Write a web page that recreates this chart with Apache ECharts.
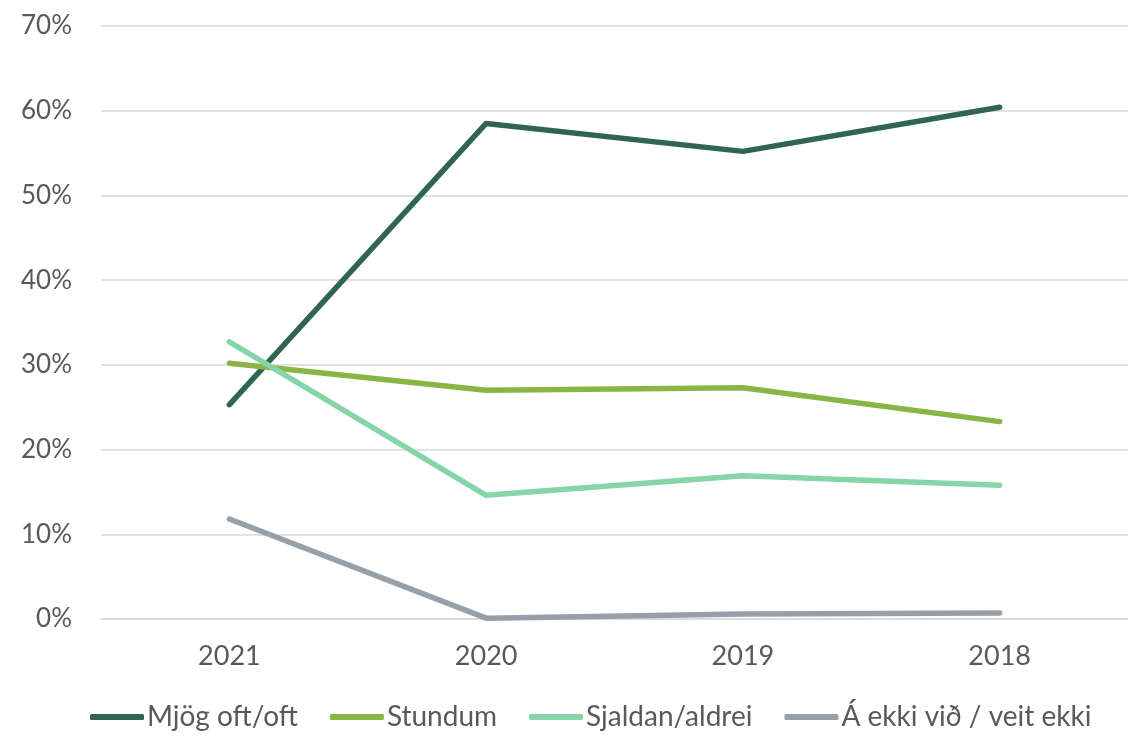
<!DOCTYPE html>
<html>
<head>
<meta charset="utf-8">
<script src="https://cdn.jsdelivr.net/npm/echarts@6/dist/echarts.min.js"></script>
<style>
html,body{margin:0;padding:0;background:#fff;}
#c{width:1128px;height:737px;}
</style>
</head>
<body>
<div id="c"></div>
<script>
const categories = ['2021', '2020', '2019', '2018'];
const seriesNames = ['Mjög oft/oft', 'Stundum', 'Sjaldan/aldrei', 'Á ekki við / veit ekki'];
const mjogOft = [25.3, 58.5, 55.2, 60.4];
const stundum = [30.2, 27.0, 27.3, 23.3];
const sjaldan = [32.7, 14.6, 16.9, 15.8];
const aEkki = [11.8, 0.1, 0.6, 0.7];
const yTicks = [0, 10, 20, 30, 40, 50, 60, 70];
const colors = ['#2f6552', '#8ab546', '#86d5a8', '#979fa8'];

const font = 'Lato, "Open Sans", sans-serif';
const values = [mjogOft, stundum, sjaldan, aEkki];

const chart = echarts.init(document.getElementById('c'), null, {renderer: 'canvas'});
chart.setOption({
  animation: false,
  color: colors,
  grid: {left: 101, top: 26, width: 1040, height: 593, containLabel: false},
  xAxis: {
    type: 'category',
    data: categories,
    boundaryGap: true,
    axisLine: {show: true, lineStyle: {color: '#d9d9d9', width: 1.5}},
    axisTick: {show: false},
    axisLabel: {color: '#595959', fontFamily: font, fontSize: 27, margin: 24}
  },
  yAxis: {
    type: 'value',
    min: yTicks[0],
    max: yTicks[yTicks.length - 1],
    interval: 10,
    axisLine: {show: false},
    axisTick: {show: false},
    splitLine: {lineStyle: {color: '#d9d9d9', width: 1.5}},
    axisLabel: {color: '#595959', fontFamily: font, fontSize: 26, margin: 29, formatter: v => v + '%'}
  },
  legend: {
    bottom: 1,
    left: 85,
    icon: 'roundRect',
    itemWidth: 54,
    itemHeight: 6,
    itemGap: 32,
    textStyle: {color: '#595959', fontFamily: font, fontSize: 28, padding: [0, 0, 0, -2]},
    data: seriesNames
  },
  series: seriesNames.map((n, i) => ({
    name: n,
    type: 'line',
    data: values[i],
    symbol: 'none',
    lineStyle: {width: 5.5, cap: 'round', join: 'round', color: colors[i]},
    itemStyle: {color: colors[i]}
  }))
});
</script>
</body>
</html>
